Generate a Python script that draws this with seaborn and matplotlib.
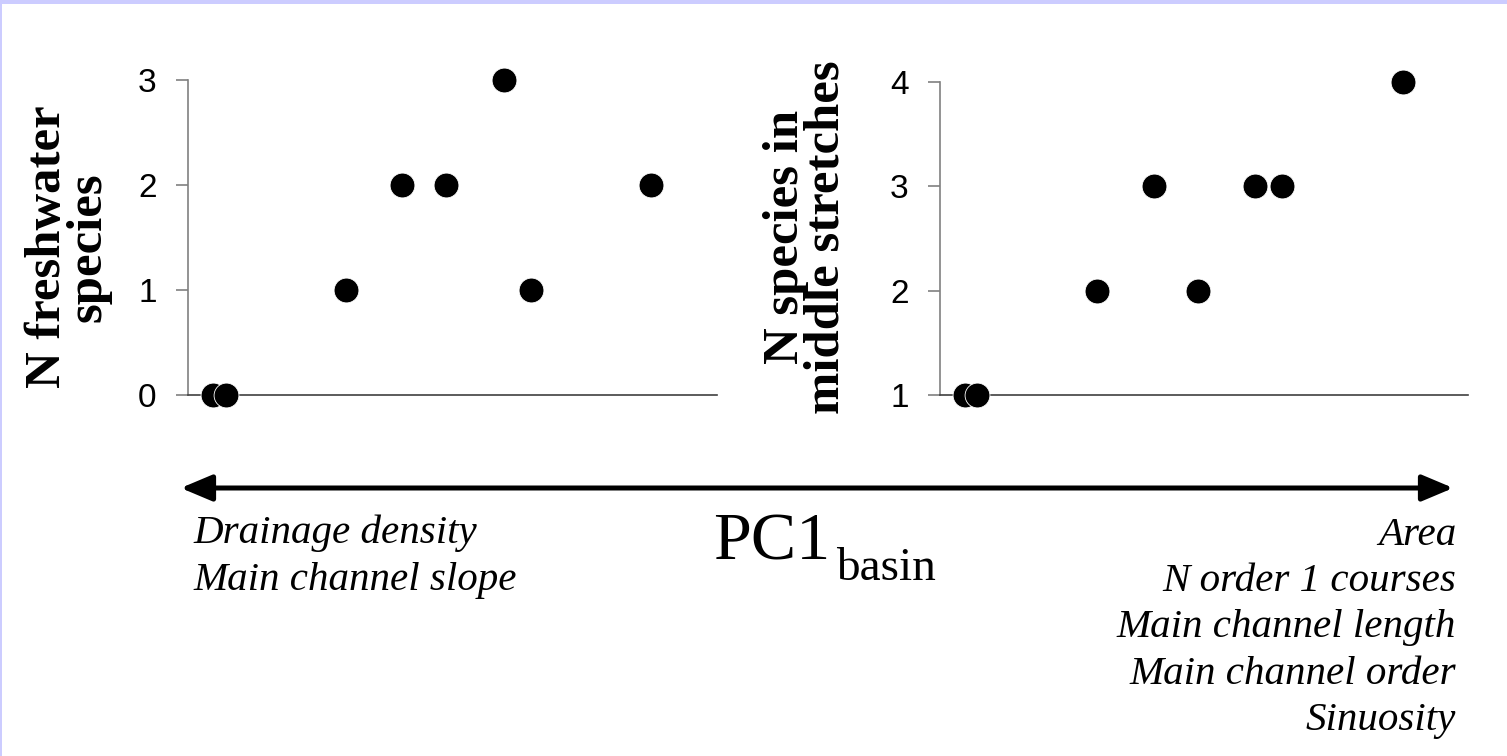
import matplotlib
matplotlib.use("Agg")
import matplotlib.pyplot as plt
import seaborn as sns
import pandas as pd
from matplotlib.patches import Rectangle, FancyArrowPatch

# ---- data ----
pc1_scores = [0.47, 0.71, 2.98, 4.05, 4.88, 5.97, 6.48, 8.76]
n_freshwater = [0, 0, 1, 2, 2, 3, 1, 2]
n_middle = [1, 1, 2, 3, 2, 3, 3, 4]
left_ticks = [0, 1, 2, 3]
right_ticks = [1, 2, 3, 4]
left_ylabel = "N freshwater\nspecies"
right_ylabel = "N species in\nmiddle stretches"
neg_text = "Drainage density\nMain channel slope"
pos_text = "Area\nN order 1 courses\nMain channel length\nMain channel order\nSinuosity"

sns.set_style("white")
plt.rcParams['font.family'] = ['Liberation Sans', 'DejaVu Sans']
for k in ['text.color', 'axes.labelcolor', 'xtick.color', 'ytick.color']:
    plt.rcParams[k] = 'black'

W, H = 1507, 756
fig = plt.figure(figsize=(W / 100, H / 100), dpi=100)
fig.patch.set_facecolor('white')

# lavender frame (top and left)
fig.add_artist(Rectangle((0, 1 - 4 / H), 1, 4 / H, transform=fig.transFigure,
                         facecolor='#CCCCFF', edgecolor='none'))
fig.add_artist(Rectangle((0, 0), 2 / W, 1, transform=fig.transFigure,
                         facecolor='#CCCCFF', edgecolor='none'))

ax1 = fig.add_axes([188 / W, 1 - 395 / H, 529 / W, 315 / H])
ax2 = fig.add_axes([940 / W, 1 - 395 / H, 528 / W, 313 / H])

df = pd.DataFrame({"pc1": pc1_scores, "fw": n_freshwater, "mid": n_middle})

for ax, col, ticks, lab, lx, ly in [(ax1, "fw", left_ticks, left_ylabel, 68, 247),
                                    (ax2, "mid", right_ticks, right_ylabel, 806, 237)]:
    sns.scatterplot(data=df, x="pc1", y=col, ax=ax, s=320, color='black',
                    edgecolor='white', linewidth=0.6, clip_on=False, zorder=3,
                    legend=False)
    ax.set_xlim(0, 10)
    ax.set_ylim(ticks[0], ticks[-1])
    ax.set_yticks(ticks)
    ax.set_yticklabels([str(t) for t in ticks], fontsize=24)
    ax.set_xticks([])
    ax.set_xlabel("")
    ax.set_ylabel(lab, fontsize=36.5, fontweight='bold', family='Liberation Serif',
                  linespacing=0.85, va='center', ha='center')
    ax.yaxis.set_label_coords(lx / W, 1 - ly / H, transform=fig.transFigure)
    ax.tick_params(axis='y', length=8.6, width=1.2, color='#808080', pad=14,
                   left=True, direction='out')
    for s in ['top', 'right']:
        ax.spines[s].set_visible(False)
    ax.spines['left'].set_color('#808080')
    ax.spines['left'].set_linewidth(1.2)
    ax.spines['bottom'].set_color('#404040')
    ax.spines['bottom'].set_linewidth(1.2)
    ax.patch.set_alpha(0)

# double-headed arrow
y_arrow = 1 - 488 / H
fig.add_artist(FancyArrowPatch(
    (178 / W, y_arrow), (1456 / W, y_arrow), transform=fig.transFigure,
    arrowstyle='<|-|>,head_length=0.95,head_width=0.4', mutation_scale=20,
    lw=3.6, color='black'))

fig.text(193 / W, 1 - 515 / H, neg_text, family='Liberation Serif',
         style='italic', fontsize=29.5, ha='left', va='top', linespacing=1.33)
fig.text(1456 / W, 1 - 517 / H, pos_text, family='Liberation Serif',
         style='italic', fontsize=29.5, ha='right', va='top', linespacing=1.33)
fig.text(713 / W, 1 - 560 / H, "PC1", family='Liberation Serif',
         fontsize=49, ha='left', va='baseline')
fig.text(836 / W, 1 - 580 / H, "basin", family='Liberation Serif',
         fontsize=34, ha='left', va='baseline')

fig.savefig("out.png", dpi=100)
